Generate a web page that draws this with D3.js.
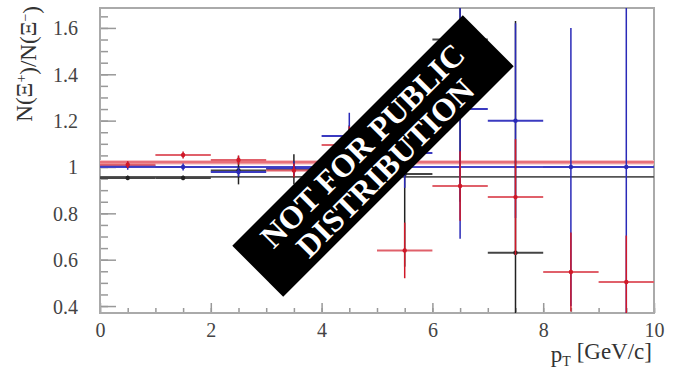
<!DOCTYPE html>
<html>
<head>
<meta charset="utf-8">
<script src="https://cdn.jsdelivr.net/npm/d3@7"></script>
<style>
  body { margin: 0; background: #fff; }
  svg { display: block; }
  svg text { font-family: "Liberation Serif", "Times New Roman", "DejaVu Serif", "Noto Serif", serif !important; }
</style>
</head>
<body>
<svg id="chart"></svg>
<script>
// bin centres in pT (GeV/c), one unit wide
const ptBins = [0.5, 1.5, 2.5, 3.5, 4.5, 5.5, 6.5, 7.5, 8.5, 9.5];

const blackVals = [0.953, 0.953, 0.985, 0.99, 0.98, 0.97, 1.55, 0.63, null, null];
const blackErrs = [0.01, 0.01, 0.06, 0.065, 0.2, 0.4, 0.7, 1.0, null, null];

const blueVals = [1.005, 1.0, 0.978, 0.995, 1.134, 1.06, 1.25, 1.2, 1.0, 1.0];
const blueErrs = [0.017, 0.015, 0.02, 0.03, 0.1, 0.15, 0.56, 0.42, 0.6, 0.75];

const redVals = [1.01, 1.052, 1.03, 0.985, 1.095, 0.64, 0.918, 0.87, 0.547, 0.504];
const redErrs = [0.015, 0.015, 0.02, 0.03, 0.08, 0.12, 0.15, 0.25, 0.17, 0.2];

// constant fits
const fitRed = 1.02, fitRedErr = 0.01;
const fitBlue = 1.0;
const fitBlack = 0.957;

const yMajor = [0.4, 0.6, 0.8, 1.0, 1.2, 1.4, 1.6];
const yLabels = ["0.4", "0.6", "0.8", "1", "1.2", "1.4", "1.6"];
const xMajor = [0, 2, 4, 6, 8, 10];

const width = 680, height = 371;
const svg = d3.select("#chart").attr("width", width).attr("height", height);

const x = d3.scaleLinear().domain([0, 10]).range([100, 654]);
const y = d3.scaleLinear().domain([0.37, 1.686]).range([313, 8]);

svg.append("defs").append("clipPath").attr("id", "plot")
  .append("rect")
    .attr("x", x(0)).attr("y", y(1.686))
    .attr("width", x(10) - x(0)).attr("height", y(0.37) - y(1.686));

// axes: ticks point inwards, ROOT style
const yAxis = svg.append("g").attr("transform", `translate(${x(0)},0)`)
  .call(d3.axisLeft(y).tickValues(yMajor).tickSize(-16).tickPadding(22)
    .tickFormat((d, i) => yLabels[i]));
svg.append("g").attr("transform", `translate(${x(0)},0)`)
  .call(d3.axisLeft(y).tickValues(d3.range(0.4, 1.66, 0.05)).tickSize(-8).tickFormat(""));

const xAxis = svg.append("g").attr("transform", `translate(0,${y(0.37)})`)
  .call(d3.axisBottom(x).tickValues(xMajor).tickSize(-10).tickPadding(10));
svg.append("g").attr("transform", `translate(0,${y(0.37)})`)
  .call(d3.axisBottom(x).tickValues(d3.range(0, 10.01, 0.5)).tickSize(-5).tickFormat(""));

svg.selectAll("g").attr("font-family", null);
svg.selectAll(".domain").remove();
svg.selectAll(".tick line").attr("stroke", "#999").attr("stroke-width", 1.5);
svg.selectAll(".tick text").attr("fill", "#444").style("font-size", "20px");
yAxis.selectAll(".tick text").attr("dy", "0.35em");

// frame
svg.append("rect")
  .attr("x", x(0)).attr("y", y(1.686))
  .attr("width", x(10) - x(0)).attr("height", y(0.37) - y(1.686))
  .attr("fill", "none").attr("stroke", "#aaa").attr("stroke-width", 2);

const plot = svg.append("g").attr("clip-path", "url(#plot)");

// fits
plot.append("rect")
  .attr("x", x(0)).attr("width", x(10) - x(0))
  .attr("y", y(fitRed + fitRedErr)).attr("height", y(fitRed - fitRedErr) - y(fitRed + fitRedErr))
  .attr("fill", "#f6c4c8");
plot.append("line")
  .attr("x1", x(0)).attr("x2", x(10)).attr("y1", y(fitRed)).attr("y2", y(fitRed))
  .attr("stroke", "#e8707a").attr("stroke-width", 2.5);
plot.append("line")
  .attr("x1", x(0)).attr("x2", x(10)).attr("y1", y(fitBlue)).attr("y2", y(fitBlue))
  .attr("stroke", "#4444c8").attr("stroke-width", 2);
plot.append("line")
  .attr("x1", x(0)).attr("x2", x(10)).attr("y1", y(fitBlack)).attr("y2", y(fitBlack))
  .attr("stroke", "#555").attr("stroke-width", 1.8);

function drawSeries(vals, errs, color, hcolor) {
  const pts = ptBins.map((p, i) => ({ p: p, v: vals[i], e: errs[i] })).filter(d => d.v != null);
  const g = plot.append("g");
  g.selectAll(".h").data(pts).enter().append("line")
    .attr("x1", d => x(d.p - 0.5)).attr("x2", d => x(d.p + 0.5))
    .attr("y1", d => y(d.v)).attr("y2", d => y(d.v))
    .attr("stroke", hcolor).attr("stroke-width", 2);
  g.selectAll(".v").data(pts).enter().append("line")
    .attr("x1", d => x(d.p)).attr("x2", d => x(d.p))
    .attr("y1", d => y(d.v - d.e)).attr("y2", d => y(d.v + d.e))
    .attr("stroke", color).attr("stroke-width", 1.5);
  g.selectAll("circle").data(pts).enter().append("circle")
    .attr("cx", d => x(d.p)).attr("cy", d => y(d.v)).attr("r", 2.2)
    .attr("fill", color);
}

drawSeries(blackVals, blackErrs, "#222", "#444");
drawSeries(blueVals, blueErrs, "#2a2ab8", "#3a3ac0");
drawSeries(redVals, redErrs, "#d01828", "#e0606a");

// axis titles
const yt = svg.append("text")
  .attr("transform", "translate(32,6) rotate(-90)")
  .attr("text-anchor", "end")
  .attr("fill", "#333").style("font-size", "23px");
yt.append("tspan").text("N(Ξ");
yt.append("tspan").attr("dy", "-0.4em").style("font-size", "14px").text("+");
yt.append("tspan").attr("dy", "0.4em").text(")/N(Ξ");
yt.append("tspan").attr("dy", "-0.4em").style("font-size", "14px").text("−");
yt.append("tspan").attr("dy", "0.4em").text(")");

const xt = svg.append("text")
  .attr("x", 652).attr("y", 362)
  .attr("text-anchor", "end")
  .attr("fill", "#333").style("font-size", "23px");
xt.append("tspan").text("p");
xt.append("tspan").attr("dy", "0.3em").style("font-size", "14px").text("T");
xt.append("tspan").attr("dy", "-0.3em").text(" [GeV/c]");

// watermark banner
const banner = svg.append("g").attr("transform", "translate(373,156) rotate(-45)");
banner.append("rect")
  .attr("x", -163).attr("y", -36).attr("width", 326).attr("height", 72)
  .attr("fill", "#000");
banner.append("text")
  .attr("x", 0).attr("y", -4).attr("text-anchor", "middle")
  .attr("fill", "#fff").style("font-size", "32px").style("font-weight", "bold")
  .text("NOT FOR PUBLIC");
banner.append("text")
  .attr("x", 0).attr("y", 28).attr("text-anchor", "middle")
  .attr("fill", "#fff").style("font-size", "32px").style("font-weight", "bold")
  .text("DISTRIBUTION");
</script>
</body>
</html>
